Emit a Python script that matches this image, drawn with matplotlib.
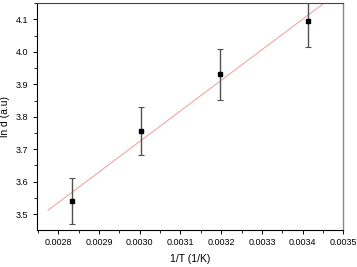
import matplotlib
matplotlib.use("Agg")
import matplotlib.pyplot as plt
from matplotlib.ticker import MultipleLocator
import numpy as np

plt.rcParams['font.family'] = ['Liberation Sans', 'DejaVu Sans']

inv_T = [0.002834, 0.003003, 0.003196, 0.003414]
ln_d = [3.541, 3.756, 3.931, 4.095]
err = [0.071, 0.075, 0.079, 0.080]
fit_slope = 942.6
fit_intercept = 0.896
fit_x = [0.002775, 0.00350]

fig = plt.figure(figsize=(3.57, 2.67), dpi=100)
ax = fig.add_axes([0.1036, 0.1386, 0.8585, 0.852])

fx = np.array(fit_x)
ax.plot(fx, fit_slope * fx + fit_intercept, color='#f29a9a', lw=0.7, zorder=2)
ax.errorbar(inv_T, ln_d, yerr=err, fmt='s', color='black', ms=3.5,
            ecolor='#505050', elinewidth=1.0, capsize=2.5, capthick=0.8, zorder=3)

ax.set_xlim(0.002748, 0.0035)
ax.set_ylim(3.451, 4.152)
ax.xaxis.set_minor_locator(MultipleLocator(0.00005))
ax.yaxis.set_minor_locator(MultipleLocator(0.05))
ax.set_xticks([0.0028, 0.0029, 0.0030, 0.0031, 0.0032, 0.0033, 0.0034, 0.0035])
ax.set_xticklabels(['0.0028', '0.0029', '0.0030', '0.0031', '0.0032', '0.0033', '0.0034', '0.0035'])
ax.set_yticks([3.5, 3.6, 3.7, 3.8, 3.9, 4.0, 4.1])
ax.set_yticklabels(['3.5', '3.6', '3.7', '3.8', '3.9', '4.0', '4.1'])

ax.tick_params(which='major', direction='out', length=3, width=0.7, labelsize=6.5, pad=3)
ax.tick_params(which='minor', direction='out', length=2, width=0.6)
ax.tick_params(top=False, right=False, which='both')
for s in ['left', 'bottom']:
    ax.spines[s].set_color('black')
    ax.spines[s].set_linewidth(0.8)
ax.spines['top'].set_color('#444444')
ax.spines['top'].set_linewidth(0.8)
ax.spines['right'].set_color('#888888')
ax.spines['right'].set_linewidth(1.0)

ax.set_xlabel('1/T (1/K)', fontsize=7.5, labelpad=5)
ax.set_ylabel('ln d (a.u)', fontsize=7.5, labelpad=4)

fig.savefig('out.png', dpi=100)
